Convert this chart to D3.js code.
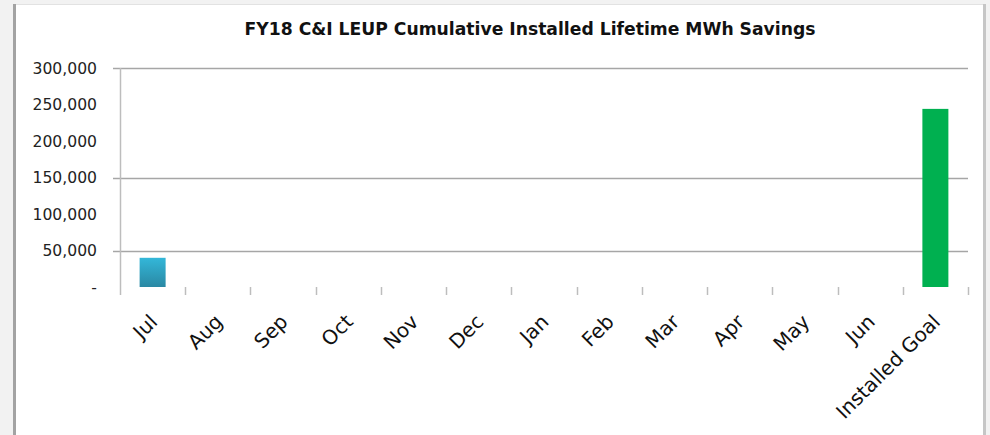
<!DOCTYPE html>
<html>
<head>
<meta charset="utf-8">
<script src="https://cdn.jsdelivr.net/npm/d3@7"></script>
<style>
  body { margin: 0; background: #f2f2f2; }
  svg { display: block; }
</style>
</head>
<body>
<div id="chart"></div>
<script>
// chart data
var categories = ["Jul", "Aug", "Sep", "Oct", "Nov", "Dec", "Jan", "Feb", "Mar", "Apr", "May", "Jun", "Installed Goal"];
var savings = [40000, 0, 0, 0, 0, 0, 0, 0, 0, 0, 0, 0, 244000];
var yTicks = [0, 50000, 100000, 150000, 200000, 250000, 300000];
var gridTicks = [50000, 150000, 300000];
var title = "FY18 C&I LEUP Cumulative Installed Lifetime MWh Savings";

var W = 990, H = 435;
var plot = {left: 120, right: 968, top: 68, bottom: 287};

var svg = d3.select("#chart")
    .append("svg")
        .attr("width", W)
        .attr("height", H);

// frame
svg.append("rect").attr("x", 0).attr("y", 0).attr("width", W).attr("height", H).attr("fill", "#f2f2f2");
svg.append("rect").attr("x", 16).attr("y", 4).attr("width", 967).attr("height", H - 4).attr("fill", "#fff");
svg.append("line").attr("x1", 16).attr("x2", 983).attr("y1", 4.5).attr("y2", 4.5).attr("stroke", "#e2e2e2");
svg.append("rect").attr("x", 13).attr("y", 4).attr("width", 3).attr("height", H - 4).attr("fill", "#a3a3a3");
svg.append("rect").attr("x", 983).attr("y", 4).attr("width", 3).attr("height", H - 4).attr("fill", "#c6c6c6");

var x = d3.scaleBand().domain(categories).range([plot.left, plot.right]);
var y = d3.scaleLinear().domain([0, 300000]).range([plot.bottom, plot.top]);

// gridlines
svg.selectAll(".grid")
    .data(gridTicks)
    .enter()
    .append("line")
        .attr("x1", plot.left - 7)
        .attr("x2", plot.right)
        .attr("y1", d => Math.round(y(d)) + 0.5)
        .attr("y2", d => Math.round(y(d)) + 0.5)
        .attr("stroke", "#a6a6a6")
        .attr("stroke-width", 1.5);

// y axis line
svg.append("line")
    .attr("x1", plot.left + 0.5).attr("x2", plot.left + 0.5)
    .attr("y1", plot.top).attr("y2", plot.bottom + 8)
    .attr("stroke", "#bdbdbd").attr("stroke-width", 1.5);

// y labels
svg.selectAll(".ylab")
    .data(yTicks)
    .enter()
    .append("text")
        .attr("x", 97)
        .attr("y", d => y(d))
        .attr("dy", "0.36em")
        .attr("text-anchor", "end")
        .style("font-family", "DejaVu Sans")
        .style("font-size", "15.6px")
        .attr("fill", "#222")
        .text(d => d === 0 ? "-" : d3.format(",")(d));

// x tick marks at category boundaries
var bounds = categories.slice(1).map(c => x(c)).concat([plot.right]);
svg.selectAll(".xtick")
    .data(bounds)
    .enter()
    .append("line")
        .attr("x1", d => Math.round(d) + 0.5)
        .attr("x2", d => Math.round(d) + 0.5)
        .attr("y1", plot.bottom)
        .attr("y2", plot.bottom + 8)
        .attr("stroke", "#bdbdbd")
        .attr("stroke-width", 1.5);

// gradient for monthly bars
var grad = svg.append("defs").append("linearGradient")
    .attr("id", "blueGrad").attr("x1", 0).attr("x2", 0).attr("y1", 0).attr("y2", 1);
grad.append("stop").attr("offset", "0%").attr("stop-color", "#33b7d9");
grad.append("stop").attr("offset", "100%").attr("stop-color", "#2a88a3");

var barW = 26;
svg.selectAll(".bar")
    .data(categories.map((c, i) => ({cat: c, v: savings[i]})).filter(d => d.v > 0))
    .enter()
    .append("rect")
        .attr("x", d => x(d.cat) + x.bandwidth() / 2 - barW / 2)
        .attr("y", d => y(d.v))
        .attr("width", barW)
        .attr("height", d => y(0) - y(d.v))
        .attr("fill", d => d.cat === "Installed Goal" ? "#00b050" : "url(#blueGrad)");

// x labels, rotated
svg.selectAll(".xlab")
    .data(categories)
    .enter()
    .append("text")
        .attr("text-anchor", "end")
        .attr("transform", d => "translate(" + (x(d) + x.bandwidth() / 2 + 6) + "," + (plot.bottom + 36) + ") rotate(-45)")
        .style("font-family", "DejaVu Sans")
        .style("font-size", "20px")
        .attr("fill", "#111")
        .text(d => d);

// title
svg.append("text")
    .attr("x", 530)
    .attr("y", 35)
    .attr("text-anchor", "middle")
    .style("font-family", "DejaVu Sans")
    .style("font-weight", "bold")
    .style("font-size", "17.2px")
    .attr("fill", "#111")
    .text(title);
</script>
</body>
</html>
